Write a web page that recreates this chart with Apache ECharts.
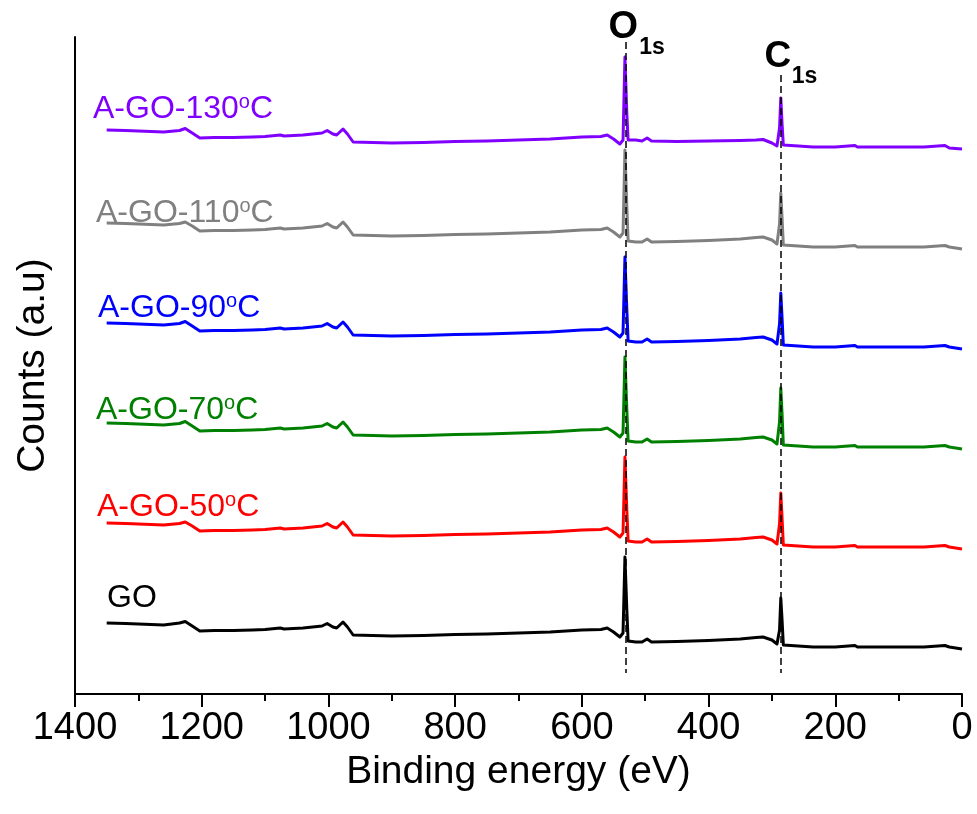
<!DOCTYPE html>
<html>
<head>
<meta charset="utf-8">
<script src="https://cdn.jsdelivr.net/npm/echarts@6/dist/echarts.min.js"></script>
<style>
html,body{margin:0;padding:0;background:#fff;}
#chart{width:977px;height:814px;}
</style>
</head>
<body>
<div id="chart"></div>
<script>
// Binding energy (eV) sample points
const energy = [1350,1320,1300,1280,1260,1235,1226,1215,1203,1180,1150,1120,1100,1076,1070,1040,1010,1002,993,987,977,970,961,930,900,850,800,750,700,650,600,570,560,550,540,535,532,529,527,515,505,497,490,450,400,350,325,314,300,292,288,286,284,282,280,235,232,228,200,169,165,120,60,27,20,0];

// Counts (a.u), vertically stacked spectra
const countsGO    = [71,70.5,70,69.5,69,71,72.5,68,63,63.5,63.5,64,64.5,66,65,66,68,70.5,67,66,72,67,59,58.5,58,58.5,59.5,60,61,62,64,64.5,66,62,57,61,137,84,53,52,52,55,52,52.5,53.5,55,56.5,57,54,50,64,96,74,49,47,47,48.5,47,47,48.5,47,47,47,48.5,47,45];
const countsA50   = [171,170.5,170,169.5,169,170.5,172,168,163,163.5,163.5,164,164.5,166,165,166,168,170.5,167,166,172,167,159,158.5,158,158.5,159.5,160,161,162,164,164.5,166,162,157,161,237,184,153,152,152,155,152,152.5,153.5,155,156.5,157,154,150,170,201,176,149,147,147,148.5,147,147,148.5,147,147,147,148.5,147,145];
const countsA70   = [271,270.5,270,269.5,269,270.5,272.5,268,263,263.5,263.5,264,264.5,266,265,266,268,270.5,267,266,272,267,259,258.5,258,258.5,259.5,260,261,262,264,264.5,266,262,257,261,337,284,253,252,252,255,252,252.5,253.5,255,256.5,257,254,250,272,306,280,249,247,247,248.5,247,247,248.5,247,247,247,248.5,247,245];
const countsA90   = [371,370.5,370,369.5,369,370.5,372.5,368,363,363.5,363.5,364,364.5,366,365,366,368,370.5,367,366,372,367,359,358.5,358,358.5,359.5,360,361,362,364,364.5,366,362,357,361,437,384,353,352,352,355,352,352.5,353.5,355,356.5,357,354,350,370,401,376,349,347,347,348.5,347,347,348.5,347,347,347,348.5,347,345];
const countsA110  = [471,470.5,470,469.5,469,470.5,472,468,463,463.5,463.5,464,464.5,466,465,466,468,470.5,467,466,472,467,459,458.5,458,458.5,459.5,460,461,462,464,464.5,466,462,457,461,544,487,453,452,452,455,452,452.5,453.5,455,456.5,457,454,450,470,501,476,449,447,447,448.5,447,447,448.5,447,447,447,448.5,447,445];
const countsA130  = [564,563.5,563,562.5,562,563.5,565.5,561,556,556.5,556.5,557,557.5,559,558,559,561,563.5,560,559,565,560,552,551.5,551,551.5,552.5,553,554,555,557,557.5,559,555,550,554,637,580,554,554,553,556,553,552.5,553,553.5,554,554.5,551,548,566,596,570,549,547,547,548.5,547,547,548.5,547,547,547,548.5,546,545];

const seriesNames  = ['GO','A-GO-50\u00B0C','A-GO-70\u00B0C','A-GO-90\u00B0C','A-GO-110\u00B0C','A-GO-130\u00B0C'];
const seriesColors = ['#000000','#ff0000','#008000','#0000ff','#808080','#8000ff'];
const seriesCounts = [countsGO, countsA50, countsA70, countsA90, countsA110, countsA130];

// Reference peak positions (eV) and x-axis ticks
const peakO1s = 530;
const peakC1s = 286;
const xTicks = [0,200,400,600,800,1000,1200,1400];

const FONT = "'Liberation Sans', Arial, sans-serif";
const chart = echarts.init(document.getElementById('chart'), null, {renderer:'canvas'});

const series = seriesCounts.map((vals, i) => ({
  name: seriesNames[i],
  type: 'line',
  showSymbol: false,
  symbol: 'none',
  data: energy.map((e, k) => [e, vals[k]]),
  lineStyle: {color: seriesColors[i], width: 3, join: 'round'},
  itemStyle: {color: seriesColors[i]},
  z: 2
}));

// dashed guide lines at the O1s and C1s peaks
series.push({
  type: 'line',
  data: [],
  z: 5,
  markLine: {
    silent: true,
    symbol: 'none',
    label: {show: false},
    lineStyle: {color: '#000', type: [7, 4], width: 1.5},
    data: [
      [{coord: [peakO1s, 652]}, {coord: [peakO1s, 21]}],
      [{coord: [peakC1s, 619]}, {coord: [peakC1s, 21]}]
    ]
  }
});

chart.setOption({
  animation: false,
  backgroundColor: '#ffffff',
  grid: {left: 75, right: 15, top: 37, bottom: 120, containLabel: false, outerBoundsMode: 'none'},
  xAxis: {
    type: 'value',
    inverse: true,
    min: 0, max: 1400, interval: 200,
    name: 'Binding energy (eV)',
    nameLocation: 'middle',
    nameGap: 59,
    nameMoveOverlap: false,
    nameTextStyle: {fontSize: 39, color: '#000', fontFamily: FONT},
    axisLine: {show: true, onZero: false, lineStyle: {color: '#000', width: 2}},
    axisTick: {show: true, inside: false, length: 13, lineStyle: {color: '#000', width: 2}},
    minorTick: {show: true, splitNumber: 2, length: 7, lineStyle: {color: '#000', width: 2}},
    axisLabel: {fontSize: 38, color: '#000', fontFamily: FONT, margin: 16,
      formatter: v => xTicks.includes(v) ? String(v) : ''},
    splitLine: {show: false},
    minorSplitLine: {show: false}
  },
  yAxis: {
    type: 'value',
    position: 'left',
    min: 0, max: 657,
    name: 'Counts (a.u)',
    nameLocation: 'middle',
    nameRotate: 90,
    nameGap: 22,
    nameMoveOverlap: false,
    nameTextStyle: {fontSize: 39, color: '#000', fontFamily: FONT},
    axisLine: {show: true, onZero: false, lineStyle: {color: '#000', width: 2}},
    axisTick: {show: false},
    axisLabel: {show: false},
    splitLine: {show: false}
  },
  series: series
});

// text annotations
const labelPos = [[107, 598], [97, 507], [96, 410], [98, 308], [96, 213], [93, 109]];
const labelBase = ['GO','A-GO-50','A-GO-70','A-GO-90','A-GO-110','A-GO-130'];
const graphics = [];
labelBase.forEach((t, i) => {
  const txt = i === 0 ? '{m|GO}' : '{m|' + t + '}{s|o}{m|C}';
  graphics.push({
    type: 'text',
    x: labelPos[i][0], y: labelPos[i][1],
    style: {
      text: txt,
      fill: seriesColors[i],
      align: 'left',
      verticalAlign: 'middle',
      rich: {
        m: {fontSize: 32, fontFamily: FONT, lineHeight: 34, fill: seriesColors[i]},
        s: {fontSize: 20, fontFamily: FONT, lineHeight: 20, verticalAlign: 'top', fill: seriesColors[i]}
      }
    }
  });
});
const pO = chart.convertToPixel({gridIndex: 0}, [peakO1s, 0]);
const pC = chart.convertToPixel({gridIndex: 0}, [peakC1s, 0]);
graphics.push(
  {type: 'text', x: pO[0] - 3, y: 28, style: {text: 'O', fill: '#000', font: "bold 38px " + FONT, align: 'center', verticalAlign: 'middle'}},
  {type: 'text', x: pO[0] + 13, y: 48, style: {text: '1s', fill: '#000', font: "bold 23px " + FONT, align: 'left', verticalAlign: 'middle'}},
  {type: 'text', x: pC[0] - 3, y: 57, style: {text: 'C', fill: '#000', font: "bold 37px " + FONT, align: 'center', verticalAlign: 'middle'}},
  {type: 'text', x: pC[0] + 11, y: 77, style: {text: '1s', fill: '#000', font: "bold 23px " + FONT, align: 'left', verticalAlign: 'middle'}}
);
chart.setOption({graphic: graphics});
</script>
</body>
</html>
